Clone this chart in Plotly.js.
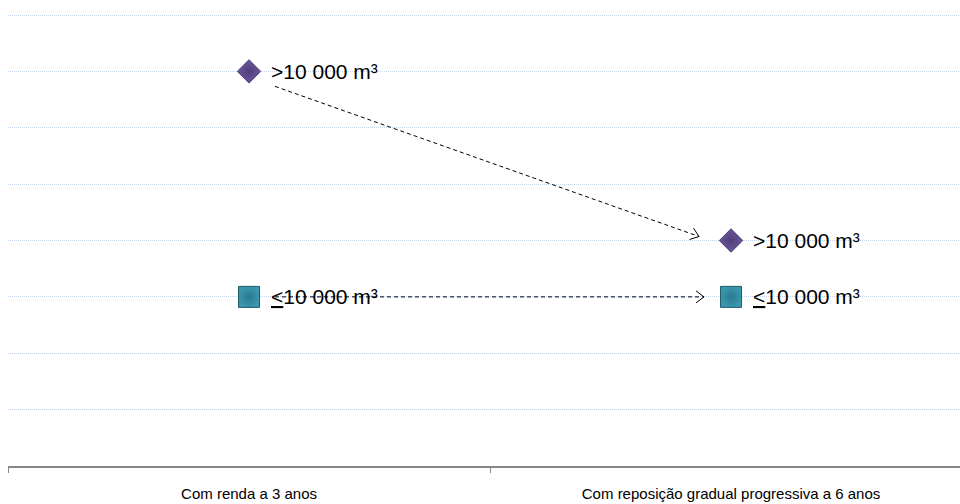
<!DOCTYPE html>
<html>
<head>
<meta charset="utf-8">
<script src="https://cdn.plot.ly/plotly-3.0.1.min.js"></script>
<style>html,body{margin:0;padding:0;background:#fff;}#chart{width:960px;height:504px;}</style>
</head>
<body>
<div id="chart"></div>
<script>
// ---- data ----
var categories = ["Com renda a 3 anos", "Com reposição gradual progressiva a 6 anos"];
var largeValues = [7, 4];      // >10 000 m3
var smallValues = [3, 3];      // <=10 000 m3
var largeLabel = "&gt;10 000 m³";
var smallLabel = "<u>&lt;</u>10 000 m³";

// pixel-to-unit helpers for styling offsets (x: 482 px per category, y: ~56.4 px per unit)
var PX = 1 / 482, PY = 1 / 56.4;
var FONT = "Liberation Sans, Arial, sans-serif";

var traceLarge = {
  x: categories, y: largeValues, type: "scatter", mode: "markers",
  marker: {symbol: "diamond", size: 18, color: "#6b57a0",
           gradient: {type: "radial", color: "#4f3e78"},
           line: {color: "#4a3a6e", width: 1}},
  hoverinfo: "skip", showlegend: false, cliponaxis: false
};
var traceSmall = {
  x: categories, y: smallValues, type: "scatter", mode: "markers",
  marker: {symbol: "square", size: 21, color: "#3a97ae",
           gradient: {type: "radial", color: "#2a7a8f"},
           line: {color: "#215967", width: 1}},
  hoverinfo: "skip", showlegend: false, cliponaxis: false
};

// point labels, placed at each data point
var annotations = [];
categories.forEach(function (c, i) {
  annotations.push({x: c, y: largeValues[i], xref: "x", yref: "y", text: largeLabel,
    showarrow: false, xanchor: "left", yanchor: "middle", xshift: 20,
    font: {family: FONT, size: 21, color: "#000"}});
  annotations.push({x: c, y: smallValues[i], xref: "x", yref: "y", text: smallLabel,
    showarrow: false, xanchor: "left", yanchor: "middle", xshift: 20,
    font: {family: FONT, size: 21, color: "#000"}});
});

// connecting dashed arrows, derived from the data values
function conn(v0, v1, sx, sy, ex, ey) {
  return {x0: 0 + sx * PX, y0: v0 + sy * PY, x1: 1 + ex * PX, y1: v1 + ey * PY};
}
var c1 = conn(largeValues[0], largeValues[1], 26, -15, -32, 4);
var c2 = conn(smallValues[0], smallValues[1], 26, 0, -27, 0);
var shapes = [];
[c1, c2].forEach(function (c) {
  shapes.push({type: "line", xref: "x", yref: "y", x0: c.x0, y0: c.y0, x1: c.x1, y1: c.y1,
               line: {color: "#000", width: 1, dash: "4px,3px"}});
});
// open ">" arrowheads anchored at the line ends (pixel-sized)
function head(c, ang) {
  var L = 8, W = 6, ca = Math.cos(ang), sa = Math.sin(ang);
  var bx = -L * ca, by = -L * sa, px = -sa * W, py = ca * W;
  return {type: "path", xref: "x", yref: "y", xsizemode: "pixel", ysizemode: "pixel",
          xanchor: c.x1, yanchor: c.y1,
          path: "M" + (bx + px).toFixed(2) + "," + (by + py).toFixed(2) + " L0,0 L" +
                (bx - px).toFixed(2) + "," + (by - py).toFixed(2),
          line: {color: "#000", width: 1}};
}
var ang1 = Math.atan2((c1.y1 - c1.y0) / PY, (c1.x1 - c1.x0) / PX);
var ang2 = Math.atan2((c2.y1 - c2.y0) / PY, (c2.x1 - c2.x0) / PX);
shapes.push(head(c1, ang1));
shapes.push(head(c2, ang2));

var layout = {
  width: 960, height: 504,
  margin: {l: 8, r: 0, t: 14, b: 38},
  paper_bgcolor: "#fff", plot_bgcolor: "#fff",
  font: {family: FONT},
  xaxis: {type: "category", range: [-0.5, 1.475], showgrid: false, zeroline: false,
          showline: true, linecolor: "#868686", linewidth: 2,
          ticks: "outside", tickson: "boundaries", ticklen: 5, tickcolor: "#868686", tickwidth: 1,
          ticklabelstandoff: 13,
          tickfont: {family: FONT, size: 15, color: "#000"},
          fixedrange: true},
  yaxis: {range: [0, 8.018], tickvals: [1, 2, 3, 4, 5, 6, 7, 8], showticklabels: false, ticks: "",
          showgrid: true, gridcolor: "#c3d5ee", gridwidth: 1, griddash: "1px,1px",
          zeroline: false, showline: false, fixedrange: true},
  shapes: shapes,
  annotations: annotations
};

Plotly.newPlot("chart", [traceLarge, traceSmall], layout, {displayModeBar: false, staticPlot: true});
</script>
</body>
</html>
